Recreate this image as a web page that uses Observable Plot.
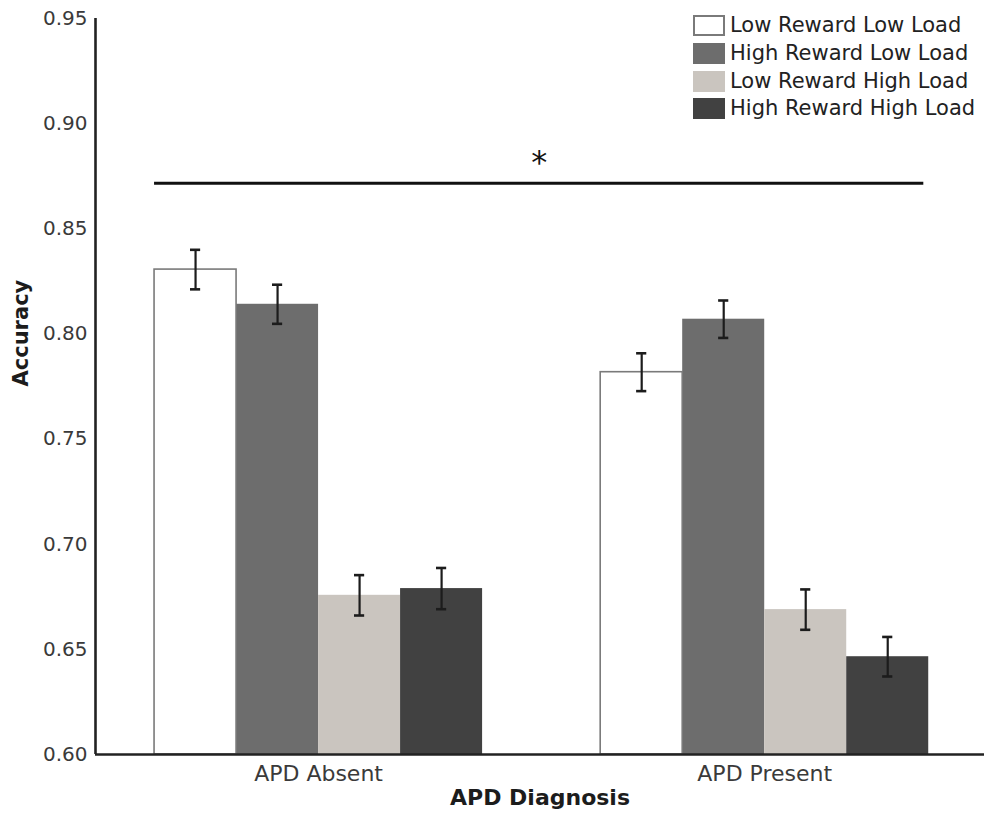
<!DOCTYPE html>
<html>
<head>
<meta charset="utf-8">
<script src="https://cdn.jsdelivr.net/npm/d3@7"></script>
<script src="https://cdn.jsdelivr.net/npm/@observablehq/plot@0.6"></script>
<style>
  body { margin: 0; background: #fff; font-family: "DejaVu Sans", sans-serif; }
  #wrap { position: relative; width: 984px; height: 818px; }
  #legend { position: absolute; left: 693px; top: 12px; }
  .row { display: flex; align-items: center; height: 27.7px; }
  .sw { width: 32px; height: 21px; box-sizing: border-box; margin-right: 5px; flex: none; }
  .lab { font-size: 21px; color: #222; line-height: 1; white-space: nowrap; }
</style>
</head>
<body>
<div id="wrap"><div id="chart"></div><div id="legend"></div></div>
<script>
// ---- data ----
const groups = ["APD Absent", "APD Present"];
const conditions = ["Low Reward Low Load", "High Reward Low Load", "Low Reward High Load", "High Reward High Load"];
const absentMeans = [0.8306, 0.8141, 0.6757, 0.6789];
const absentErrors = [0.0094, 0.0093, 0.0096, 0.0098];
const presentMeans = [0.7818, 0.8070, 0.6689, 0.6465];
const presentErrors = [0.0090, 0.0089, 0.0096, 0.0094];
const yTicks = [0.60, 0.65, 0.70, 0.75, 0.80, 0.85, 0.90, 0.95];
const sigLevel = 0.8717;
const sigMark = "*";
const xTitle = "APD Diagnosis";
const yTitle = "Accuracy";

// ---- styles / layout ----
const fills = ["#ffffff", "#6d6d6d", "#cac5bf", "#414141"];
const outline = "#7a7a7a";
const ink = "#1c1c1c";
const groupStep = 5.44;       // group spacing, in bar widths
const xPadLeft = 0.72, xPadRight = 0.68;
const capHalf = 0.062;
const yDomain = [0.60, 0.95];

const meansBy = [absentMeans, presentMeans];
const errsBy = [absentErrors, presentErrors];
const rows = groups.flatMap((g, gi) => conditions.map((c, ci) => {
  const x1 = gi * groupStep + ci;
  return {group: g, condition: c, ci, mean: meansBy[gi][ci], err: errsBy[gi][ci],
          x1, x2: x1 + 1, xc: x1 + 0.5, fill: fills[ci]};
}));
const xDomain = [-xPadLeft, (groups.length - 1) * groupStep + conditions.length + xPadRight];
const groupCenters = groups.map((g, gi) => gi * groupStep + conditions.length / 2);
const sigFrom = 0, sigTo = (groups.length - 1) * groupStep + conditions.length - 0.06;

const chart = Plot.plot({
  width: 984,
  height: 818,
  marginLeft: 95,
  marginRight: 0,
  marginTop: 18,
  marginBottom: 64,
  style: {fontFamily: "DejaVu Sans, sans-serif", color: "#3a3a3a", background: "#fff"},
  x: {domain: xDomain, axis: null},
  y: {domain: yDomain, axis: null},
  marks: [
    Plot.rect(rows, {x1: "x1", x2: "x2", y1: () => yDomain[0], y2: "mean", fill: d => d.fill}),
    Plot.rect(rows.filter(d => d.ci === 0), {x1: "x1", x2: "x2", y1: () => yDomain[0], y2: "mean", fill: "none", stroke: outline, strokeWidth: 1.6}),
    Plot.ruleX(rows, {x: "xc", y1: d => d.mean - d.err, y2: d => d.mean + d.err, stroke: ink, strokeWidth: 2.2}),
    Plot.ruleY(rows, {y: d => d.mean - d.err, x1: d => d.xc - capHalf, x2: d => d.xc + capHalf, stroke: ink, strokeWidth: 2.6}),
    Plot.ruleY(rows, {y: d => d.mean + d.err, x1: d => d.xc - capHalf, x2: d => d.xc + capHalf, stroke: ink, strokeWidth: 2.6}),
    Plot.ruleX([xDomain[0]], {stroke: "#222", strokeWidth: 2.6}),
    Plot.ruleY([yDomain[0]], {stroke: "#222", strokeWidth: 2.6}),
    Plot.ruleY([sigLevel], {x1: sigFrom, x2: sigTo, stroke: "#111", strokeWidth: 3}),
    Plot.text([sigMark], {x: (sigFrom + sigTo) / 2, y: sigLevel, dy: -20, fontSize: 32, fill: "#111"}),
    Plot.axisY({ticks: yTicks, tickSize: 0, tickPadding: 8, tickFormat: d3.format(".2f"), fontSize: 20, label: null}),
    Plot.axisX({ticks: groupCenters, tickSize: 0, tickPadding: 11, tickFormat: (d, i) => groups[i], fontSize: 22, label: null}),
    Plot.text([yTitle], {frameAnchor: "left", rotate: -90, dx: -74, fontSize: 21, fontWeight: "bold", fill: ink}),
    Plot.text([xTitle], {frameAnchor: "bottom", dy: 50, fontSize: 22, fontWeight: "bold", fill: ink})
  ]
});
document.getElementById("chart").appendChild(chart);

// legend (HTML overlay, top right inside the plot area)
const legend = d3.select("#legend");
conditions.forEach((c, i) => {
  const row = legend.append("div").attr("class", "row");
  row.append("div").attr("class", "sw")
    .style("background", fills[i])
    .style("border", i === 0 ? `2px solid ${outline}` : "none");
  row.append("div").attr("class", "lab").text(c);
});
</script>
</body>
</html>
